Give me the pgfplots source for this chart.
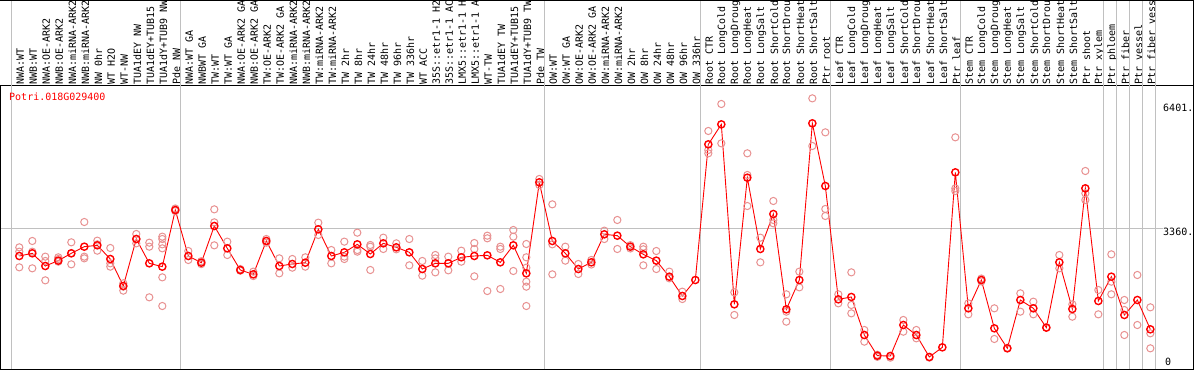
\documentclass[border=0pt]{standalone}
\usepackage{pgfplots}
\pgfplotsset{compat=1.18}
\usepackage{pgfplotstable}
\usepackage{fontspec}
\setmainfont{DejaVu Sans Mono}
\setmonofont{DejaVu Sans Mono}
\definecolor{rep}{RGB}{232,145,145}
\definecolor{grid}{RGB}{192,192,192}
\pgfplotstableread{
x y
1 2687
2 2752
3 2444
4 2574
5 2752
6 2913
7 2946
8 2614
9 1959
10 3099
11 2509
12 2428
13 3803
14 2687
15 2525
16 3415
17 2873
18 2347
19 2242
20 3051
21 2444
22 2493
23 2525
24 3334
25 2687
26 2776
27 2970
28 2735
29 2994
30 2897
31 2776
32 2371
33 2509
34 2509
35 2655
36 2687
37 2703
38 2533
39 2946
40 2266
41 4475
42 3051
43 2752
44 2371
45 2533
46 3213
47 3180
48 2913
49 2727
50 2574
51 2185
52 1716
53 2104
54 5397
55 5882
56 1514
57 4588
58 2857
59 3706
60 1392
61 2104
62 5907
63 4386
64 1635
65 1692
66 769
67 268
68 260
69 1012
70 769
71 236
72 470
73 4717
74 1417
75 2104
76 931
77 446
78 1619
79 1417
80 948
81 2533
82 1401
83 4329
84 1595
85 2185
86 1255
87 1619
88 907
}\means
\pgfplotstableread{
x y
1 2897
1 2792
1 2412
2 3051
2 2792
2 2388
3 2671
3 2566
3 2096
4 2655
4 2614
4 2549
5 3019
5 2752
5 2485
6 3512
6 2671
6 2630
7 3059
7 2970
7 2816
8 2881
8 2509
8 2428
9 2024
9 1943
9 1846
10 3221
10 2994
10 3099
11 3010
11 2913
11 1684
12 3156
12 3099
12 2970
12 2873
12 2169
12 1473
13 3840
13 3780
14 2808
14 2590
15 2560
15 2490
16 3819
16 3504
16 2946
17 3035
17 2711
18 2370
18 2330
19 2307
19 2201
20 3099
20 3010
21 2630
21 2266
22 2614
22 2404
23 2655
23 2428
24 3496
24 3197
25 2832
25 2509
26 3035
26 2671
26 2614
27 3253
27 2832
27 2792
28 2954
28 2913
28 2347
29 3132
29 2857
30 2994
30 2849
31 3099
31 2460
32 2566
32 2210
33 2711
33 2630
33 2290
34 2671
34 2339
35 2816
35 2549
36 3002
36 2857
36 2193
37 3180
37 3116
37 1837
38 2913
38 2857
38 1886
39 3318
39 3156
39 2323
40 2978
40 2655
40 2404
40 2064
40 1943
40 1473
41 4556
41 4410
42 3941
42 2970
42 2242
43 2913
43 2574
44 2493
44 2250
45 2590
45 2480
46 3302
46 3099
47 3561
47 2857
48 2950
48 2870
49 2913
49 2849
49 2460
50 2808
50 2371
51 2307
51 2145
52 1821
52 1643
54 5721
54 5259
54 5179
55 6376
55 5421
56 1805
56 1255
57 5179
57 4653
57 3900
58 3132
58 2533
59 4022
59 3561
59 3480
60 1757
60 1336
60 1093
61 2307
61 1926
62 6513
62 5357
63 5688
63 3828
63 3658
64 1757
64 1538
65 2290
65 1498
65 1295
66 891
66 608
67 290
67 240
68 220
69 1134
69 850
70 891
70 689
71 220
73 5567
73 4329
73 4264
74 1538
74 1271
75 2140
75 2070
76 1417
76 673
77 460
78 1781
78 1336
79 1578
79 1271
80 960
81 2711
81 2388
82 1514
82 1214
83 4750
83 4208
83 4046
84 1862
84 1271
85 2727
85 2064
85 1757
86 1619
86 1376
86 769
87 2226
87 1012
88 1441
88 810
88 446
}\reps
\begin{document}
\begin{tikzpicture}[x=1pt,y=1pt]
\useasboundingbox (-1,-1) rectangle (1193,369);
\clip (-1,-1) rectangle (1193,369);
\fill[white] (-1,-1) rectangle (1193,369);
\begin{axis}[
  at={(0,0)}, anchor=south west,
  scale only axis, width=1192pt, height=284pt,
  xmin=-0.4077, xmax=91.285, ymin=-55.8, ymax=6837,
  axis line style={black, line width=1pt},
  clip=false,
  xtick={1,...,88},
  ytick=\empty,
  major tick length=0pt,
  xticklabel pos=right,
  xticklabels={NWA:WT,NWB:WT,NWA:OE-ARK2,NWB:OE-ARK2,NWA:miRNA-ARK2,NWB:miRNA-ARK2,NW 0hr,WT H2O,WT-NW,TUA1dEY NW,TUA1dEY+TUB15 NW,TUA1dY+TUB9 NW,Pde NW,NWA:WT GA,NWBWT GA,TW:WT,TW:WT GA,NWA:OE-ARK2 GA,NWB:OE-ARK2 GA,TW:OE-ARK2,TW:OE-ARK2 GA,NWA:miRNA-ARK2 GA,NWB:miRNA-ARK2 GA,TW:miRNA-ARK2,TW:miRNA-ARK2 GA,TW 2hr,TW 8hr,TW 24hr,TW 48hr,TW 96hr,TW 336hr,WT ACC,35S::etr1-1 H2O,35S::etr1-1 ACC,LMX5::etr1-1 H2O,LMX5::etr1-1 ACC,WT-TW,TUA1dEY TW,TUA1dEY+TUB15 TW,TUA1dY+TUB9 TW,Pde TW,OW:WT,OW:WT GA,OW:OE-ARK2,OW:OE-ARK2 GA,OW:miRNA-ARK2,OW:miRNA-ARK2 GA,OW 2hr,OW 8hr,OW 24hr,OW 48hr,OW 96hr,OW 336hr,Root CTR,Root LongCold,Root LongDrought,Root LongHeat,Root LongSalt,Root ShortCold,Root ShortDrought,Root ShortHeat,Root ShortSalt,Ptr root,Leaf CTR,Leaf LongCold,Leaf LongDrought,Leaf LongHeat,Leaf LongSalt,Leaf ShortCold,Leaf ShortDrought,Leaf ShortHeat,Leaf ShortSalt,Ptr leaf,Stem CTR,Stem LongCold,Stem LongDrought,Stem LongHeat,Stem LongSalt,Stem ShortCold,Stem ShortDrought,Stem ShortHeat,Stem ShortSalt,Ptr shoot,Ptr xylem,Ptr phloem,Ptr fiber,Ptr vessel,Ptr fiber vessel},
  xticklabel style={rotate=90, anchor=west, inner sep=0pt, font=\fontsize{10}{10}\selectfont, text=black, yshift=-1pt},
]
\foreach \g in {0.4,13.4,41.4,53.4,63.4,73.4,84.4,85.4,86.4,87.4,88.4}{
  \edef\tmp{\noexpand\draw[grid, line width=1pt] (axis cs:\g,-55.8) -- (axis cs:\g,9200);}
  \tmp
}
\draw[grid, line width=1pt] (axis cs:-0.4077,3360) -- (axis cs:88.95,3360);
\addplot[only marks, mark=o, mark size=3.6pt, mark options={draw=rep, line width=1pt}] table[x=x,y=y] {\reps};
\addplot[red, line width=0.9pt, mark=o, mark size=3.6pt, mark options={draw=red, line width=1.4pt}] table[x=x,y=y] {\means};
\end{axis}
\draw[black, line width=1pt] (1192,0) -- (1192,369);
\draw[black, line width=1pt] (-1,368.5) -- (1193,368.5);
\node[anchor=west, inner sep=0pt, text=red, font=\fontsize{10}{10}\selectfont] at (8,272) {Potri.018G029400};
\node[anchor=west, inner sep=0pt, font=\fontsize{10}{10}\selectfont] at (1162,261.3) {6401.};
\node[anchor=west, inner sep=0pt, font=\fontsize{10}{10}\selectfont] at (1162,137) {3360.};
\node[anchor=west, inner sep=0pt, font=\fontsize{10}{10}\selectfont] at (1164,7.3) {0};
\end{tikzpicture}
\end{document}
